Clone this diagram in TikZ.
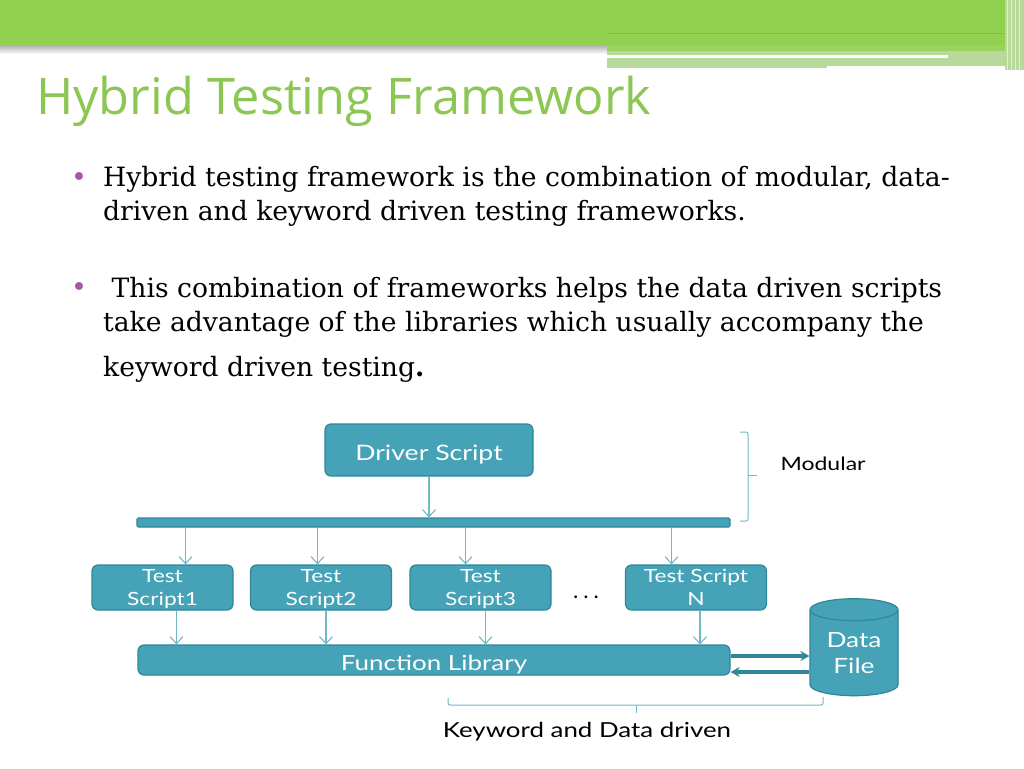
\documentclass[tikz,border=0pt]{standalone}
\usepackage{fontspec}
\setmainfont{DejaVu Serif}
\newfontfamily\titlefont{Open Sans}
\newfontfamily\diagfont{Lato}
\usepackage{xcolor}
\usepackage{graphicx}
\usetikzlibrary{positioning,arrows.meta,shapes.geometric}
\definecolor{hbGreen}{HTML}{92D050}
\definecolor{hbGreenPale}{HTML}{B7D99A}
\definecolor{hbTitle}{HTML}{8CC653}
\definecolor{hbTeal}{HTML}{45A2B7}
\definecolor{hbTealDark}{HTML}{2F8799}
\definecolor{hbLine}{HTML}{72B8C8}
\definecolor{hbCapTop}{HTML}{94CCD8}
\definecolor{hbPurple}{HTML}{A558A8}
\newcommand{\wtxt}[1]{\scalebox{1.25}[1]{#1}}
\tikzset{
  block/.style={draw=hbTealDark, fill=hbTeal, line width=1.2pt, rounded corners=6pt,
                text=white, align=center, inner sep=0pt, text depth=0pt,
                font=\diagfont\fontsize{18.2}{23}\selectfont},
  feed/.style={-{Straight Barb[length=7pt, width=13pt]}, line width=1.1pt, draw=hbLine},
  swap/.style={-{Stealth[length=9pt, width=10pt]}, line width=3.5pt, draw=hbTealDark},
  bracket/.style={draw=hbLine, line width=1pt, rounded corners=2pt},
  bullettext/.style={anchor=base west, inner sep=0pt, align=left,
                     font=\fontsize{26.6}{34}\selectfont},
  bulletdot/.style={anchor=base west, inner sep=0pt, text=hbPurple,
                    font=\fontsize{27}{27}\selectfont},
}

\begin{document}
\begin{tikzpicture}[x=1pt, y=-1pt]
  \useasboundingbox (0,0) rectangle (1024,768);
  \fill[white] (0,0) rectangle (1024,768);

  % header bands
  \shade[top color=gray!70, bottom color=white] (0,44) rectangle (1005,54);
  \fill[hbGreenPale] (607,44) rectangle (1005,68);
  \fill[hbGreen] (0,0) rectangle (1005,45);
  \fill[hbGreen!80!hbGreenPale] (607,45) rectangle (1005,51);
  \fill[hbGreen!90!black] (607,33) rectangle (1005,34);
  \fill[white] (607,55) rectangle (948,58);
  \fill[white] (827,66) rectangle (1005,69);
  \fill[hbGreenPale] (1005,0) rectangle (1024,70);
  \foreach \xx in {1007,1011,1015,1019}
    \draw[white!70!hbGreen, line width=1pt] (\xx,0) -- (\xx,70);

  % title and bullets
  \node[anchor=base west, inner sep=0pt, text=hbTitle,
        font=\titlefont\fontsize{50.5}{52}\selectfont] (title) at (36,114) {Hybrid Testing Framework};
  \node[bulletdot] (dotA) at (71,186) {•};
  \node[bullettext] (pointA) at (103,220)
    {Hybrid testing framework is the combination of modular, data-\\
     driven and keyword driven testing frameworks.};
  \node[bulletdot] (dotB) at (71,296) {•};
  \node[bullettext] (pointB) at (103,376)
    {\ This combination of frameworks helps the data driven scripts\\
     take advantage of the libraries which usually accompany the\\[11pt]
     keyword driven testing\textbf{.}};

  % diagram
  \node[block, minimum width=208, minimum height=52, text height=21pt,
        font=\diagfont\fontsize{21.3}{22}\selectfont] (driver) at (429,450) {\wtxt{Driver Script}};
  \node[block, rounded corners=1.5pt, minimum width=593, minimum height=9] (bus) at (433.5,522.5) {};
  \node[block, minimum width=141, minimum height=45] (tsA) at (162.5,587.5) {\wtxt{Test}\\\wtxt{Script1}};
  \node[block, minimum width=141, minimum height=45] (tsB) at (321,587.5) {\wtxt{Test}\\\wtxt{Script2}};
  \node[block, minimum width=141, minimum height=45] (tsC) at (480.5,587.5) {\wtxt{Test}\\\wtxt{Script3}};
  \node[block, minimum width=141, minimum height=45] (tsN) at (696,587.5) {\wtxt{Test Script}\\\wtxt{N}};
  \node[font=\diagfont\bfseries\fontsize{18}{18}\selectfont] (gap) at (586,597) {.\hspace{6pt}.\hspace{6pt}.};
  \node[block, minimum width=592, minimum height=30, text height=20pt,
        font=\diagfont\fontsize{20.8}{21}\selectfont] (lib) at (434,660) {\wtxt{Function Library}};
  \node[block, cylinder, shape border rotate=90, aspect=0.4, rounded corners=0pt,
        cylinder uses custom fill, cylinder body fill=hbTeal, cylinder end fill=hbCapTop,
        minimum width=88, minimum height=97,
        font=\diagfont\fontsize{21}{26}\selectfont] (data) at (854,653) {\wtxt{Data}\\\wtxt{File}};

  \draw[feed] (driver) -- (driver |- bus.north);
  \draw[feed] ([xshift=-248pt]bus.south) -- ([xshift=-248pt]bus.south |- tsA.north);
  \draw[feed] ([xshift=-116pt]bus.south) -- ([xshift=-116pt]bus.south |- tsB.north);
  \draw[feed] ([xshift=32pt]bus.south) -- ([xshift=32pt]bus.south |- tsC.north);
  \draw[feed] ([xshift=238pt]bus.south) -- ([xshift=238pt]bus.south |- tsN.north);
  \draw[feed] ([xshift=14pt]tsA.south) -- ([xshift=14pt]tsA.south |- lib.north);
  \draw[feed] ([xshift=5pt]tsB.south) -- ([xshift=5pt]tsB.south |- lib.north);
  \draw[feed] ([xshift=5pt]tsC.south) -- ([xshift=5pt]tsC.south |- lib.north);
  \draw[feed] ([xshift=4pt]tsN.south) -- ([xshift=4pt]tsN.south |- lib.north);
  \draw[swap] ([yshift=4pt]lib.east) -- ([yshift=4pt]lib.east -| data.west);
  \draw[swap] ([yshift=-12pt]lib.east -| data.west) -- ([yshift=-12pt]lib.east);

  % brackets
  \draw[bracket] (740,432) -- (748,432) -- (748,521) -- (740,521);
  \draw[bracket] (748,475) -- (757,475);
  \node[anchor=west, font=\diagfont\fontsize{18.4}{19}\selectfont] (modular) at (777,464) {\wtxt{Modular}};
  \draw[bracket] (448,698) -- (448,705) -- (823,705) -- (823,697);
  \draw[bracket] (636,705) -- (636,713);
  \node[font=\diagfont\fontsize{20.7}{21}\selectfont] (kwd) at (587,732) {\wtxt{Keyword and Data driven}};
\end{tikzpicture}
\end{document}
